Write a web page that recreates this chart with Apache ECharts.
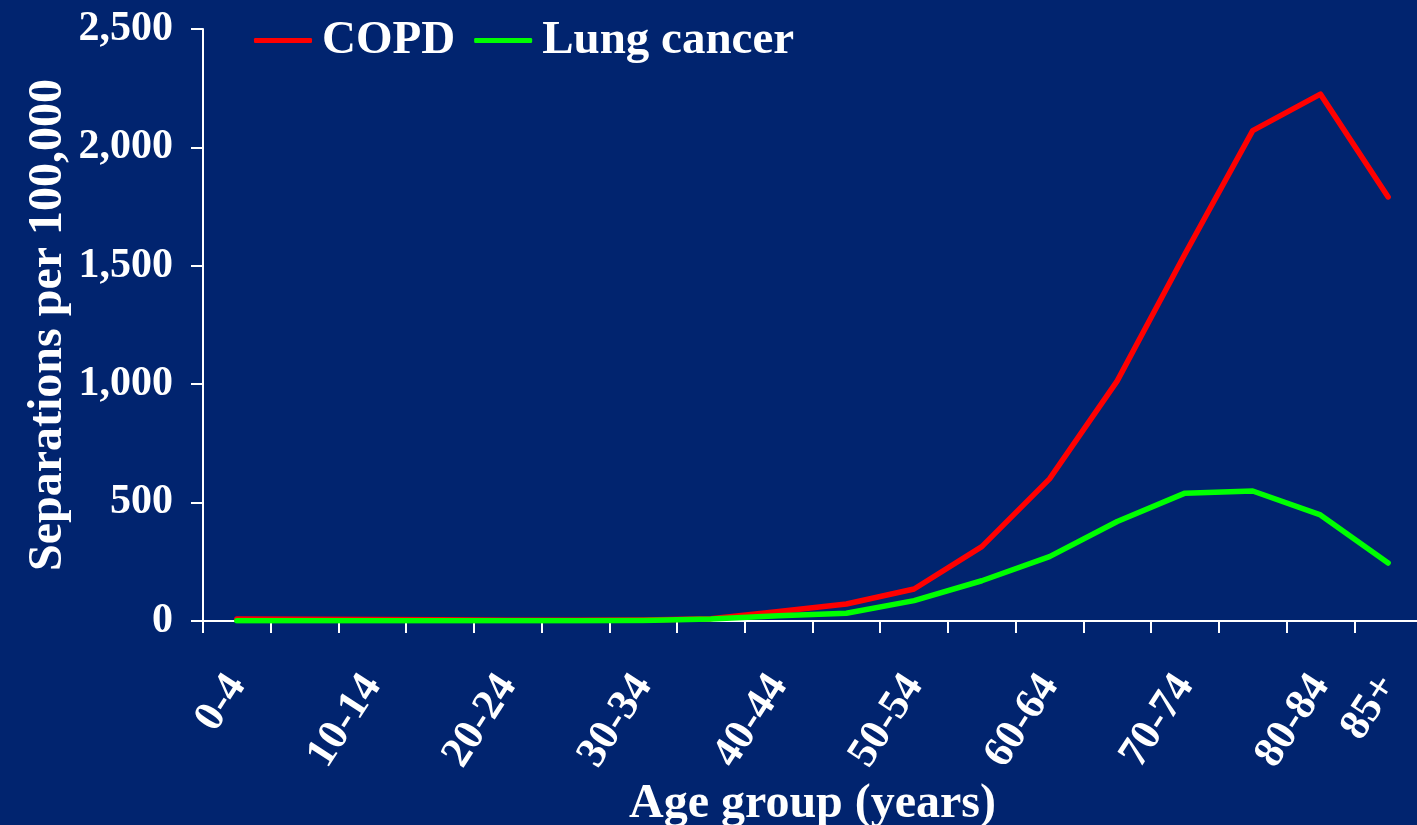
<!DOCTYPE html>
<html>
<head>
<meta charset="utf-8">
<script src="https://cdn.jsdelivr.net/npm/echarts@6/dist/echarts.min.js"></script>
<style>
  html, body { margin: 0; padding: 0; background: #01246f; }
  #chart { width: 1417px; height: 825px; }
</style>
</head>
<body>
<div id="chart"></div>
<script>
const ageGroups = ["0-4", "5-9", "10-14", "15-19", "20-24", "25-29", "30-34", "35-39", "40-44",
  "45-49", "50-54", "55-59", "60-64", "65-69", "70-74", "75-79", "80-84", "85+"];
const copd = [8, 7, 6, 5, 3, 3, 4, 10, 40, 72, 135, 314, 600, 1014, 1550, 2071, 2225, 1791];
const lungCancer = [1, 1, 1, 1, 1, 1, 2, 8, 22, 33, 86, 170, 272, 420, 540, 549, 448, 245];
const yTicks = [0, 500, 1000, 1500, 2000, 2500];

const font = "Liberation Serif";
const chart = echarts.init(document.getElementById("chart"));

chart.setOption({
  backgroundColor: "#01246f",
  animation: false,
  legend: {
    left: 249,
    top: 12,
    icon: "roundRect",
    itemWidth: 58,
    itemHeight: 5,
    itemGap: 19,
    textStyle: { color: "#fff", fontFamily: font, fontWeight: "bold", fontSize: 47, padding: [0, 0, 0, 5] },
    data: ["COPD", "Lung cancer"],
  },
  grid: { left: 203, top: 29, width: 1219, height: 592, outerBoundsMode: "none", containLabel: false },
  xAxis: {
    type: "category",
    data: ageGroups,
    boundaryGap: true,
    name: "Age group (years)",
    nameLocation: "middle",
    nameGap: 160,
    nameMoveOverlap: false,
    nameTextStyle: { color: "#fff", fontFamily: font, fontWeight: "bold", fontSize: 48 },
    axisLine: { lineStyle: { color: "#fff", width: 2 } },
    axisTick: { show: true, length: 12, interval: 0, lineStyle: { color: "#fff", width: 2 } },
    axisLabel: {
      color: "#fff",
      fontFamily: font,
      fontWeight: "bold",
      fontSize: 43,
      rotate: 57,
      margin: 58,
      interval: (i) => i % 2 === 0 || i === ageGroups.length - 1,
    },
    splitLine: { show: false },
  },
  yAxis: {
    type: "value",
    min: yTicks[0],
    max: yTicks[yTicks.length - 1],
    interval: 500,
    name: "Separations per 100,000",
    nameLocation: "middle",
    nameGap: 130,
    nameMoveOverlap: false,
    nameTextStyle: { color: "#fff", fontFamily: font, fontWeight: "bold", fontSize: 48 },
    axisLine: { show: true, lineStyle: { color: "#fff", width: 2 } },
    axisTick: { show: true, length: 12, lineStyle: { color: "#fff", width: 2 } },
    axisLabel: {
      color: "#fff",
      fontFamily: font,
      fontWeight: "bold",
      fontSize: 42,
      margin: 30,
      formatter: (v) => v.toLocaleString("en-US"),
    },
    splitLine: { show: false },
  },
  series: [
    {
      name: "COPD",
      type: "line",
      data: copd,
      symbol: "none",
      lineStyle: { color: "#ff0000", width: 5.5, cap: "round", join: "round" },
      itemStyle: { color: "#ff0000" },
    },
    {
      name: "Lung cancer",
      type: "line",
      data: lungCancer,
      symbol: "none",
      lineStyle: { color: "#00ff00", width: 5.5, cap: "round", join: "round" },
      itemStyle: { color: "#00ff00" },
    },
  ],
});
</script>
</body>
</html>
